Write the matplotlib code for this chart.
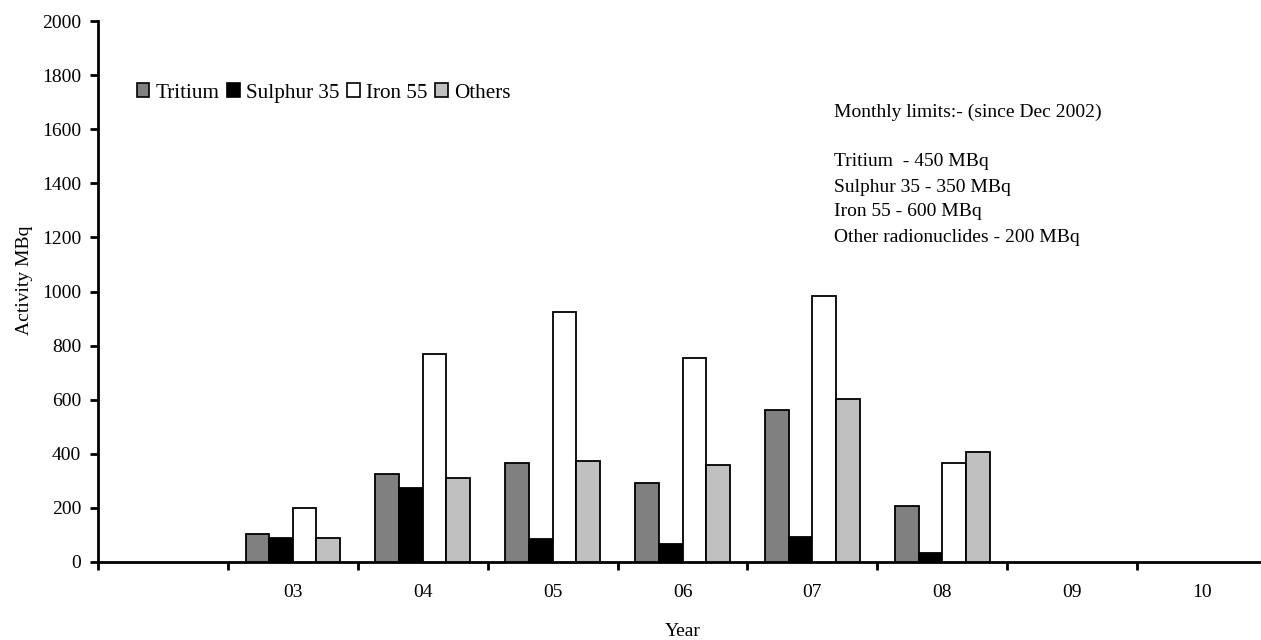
import numpy as np
import matplotlib
matplotlib.use("Agg")
import matplotlib.pyplot as plt
from matplotlib.patches import Patch

plt.rcParams['font.family'] = ['Liberation Serif', 'DejaVu Serif']

# x categories (first slot is blank in the original chart)
years = ['', '03', '04', '05', '06', '07', '08', '09', '10']
data_years = ['03', '04', '05', '06', '07', '08']

tritium = [104, 326, 366, 292, 563, 208]
sulphur = [89, 275, 85, 68, 92, 33]
iron = [198, 769, 924, 754, 983, 367]
others = [87, 310, 372, 357, 603, 408]

series = [("Tritium", tritium, "#808080"),
          ("Sulphur 35", sulphur, "#000000"),
          ("Iron 55", iron, "#ffffff"),
          ("Others", others, "#c0c0c0")]

limits_lines = ["Monthly limits:- (since Dec 2002)",
                "",
                "Tritium  - 450 MBq",
                "Sulphur 35 - 350 MBq",
                "Iron 55 - 600 MBq",
                "Other radionuclides - 200 MBq"]

fig = plt.figure(figsize=(12.61, 6.4), dpi=100)
ax = fig.add_axes([98/1261, 78/640, 1169/1261, 541/640])

width = 0.182
pos = np.array([years.index(y) for y in data_years]) + 0.5
for i, (name, vals, col) in enumerate(series):
    ax.bar(pos + (i - 1.5) * width, vals, width, color=col,
           edgecolor='black', linewidth=1.3, label=name, zorder=3)

ax.set_xlim(0, len(years))
ax.set_ylim(0, 2000)
ax.set_yticks(range(0, 2001, 200))
ax.set_xticks(range(len(years)))
ax.set_xticklabels([])
ax.set_xticks(np.arange(len(years)) + 0.5, minor=True)
ax.set_xticklabels(years, minor=True)
ax.tick_params(axis='x', which='major', direction='out', length=6, width=2)
ax.tick_params(axis='x', which='minor', length=0, pad=16, labelsize=14)
ax.tick_params(axis='y', direction='out', length=6, width=2, pad=6, labelsize=14)

for s in ['top', 'right']:
    ax.spines[s].set_visible(False)
for s in ['left', 'bottom']:
    ax.spines[s].set_linewidth(2)

ax.set_ylabel("Activity MBq", fontsize=14)
ax.yaxis.set_label_coords(-0.056, 0.521)
ax.set_xlabel("Year", fontsize=14, labelpad=16)

handles = [Patch(facecolor=c, edgecolor='black', linewidth=1.2, label=n)
           for n, _, c in series]
ax.legend(handles=handles, loc='center left', bbox_to_anchor=(0.033, 0.867),
          ncol=4, frameon=False, fontsize=15.2, handlelength=0.6,
          handleheight=0.6, handletextpad=0.3, columnspacing=0.36,
          borderpad=0, borderaxespad=0)

# limits note: header line, then the limit lines a bit lower
note_y = [112, 137, 162, 187, 212, 237]
for line, ypx in zip(limits_lines, note_y):
    fig.text(834/1261, (640 - ypx) / 640, line, fontsize=14,
             va='center', ha='left')

fig.savefig("out.png", dpi=100)
